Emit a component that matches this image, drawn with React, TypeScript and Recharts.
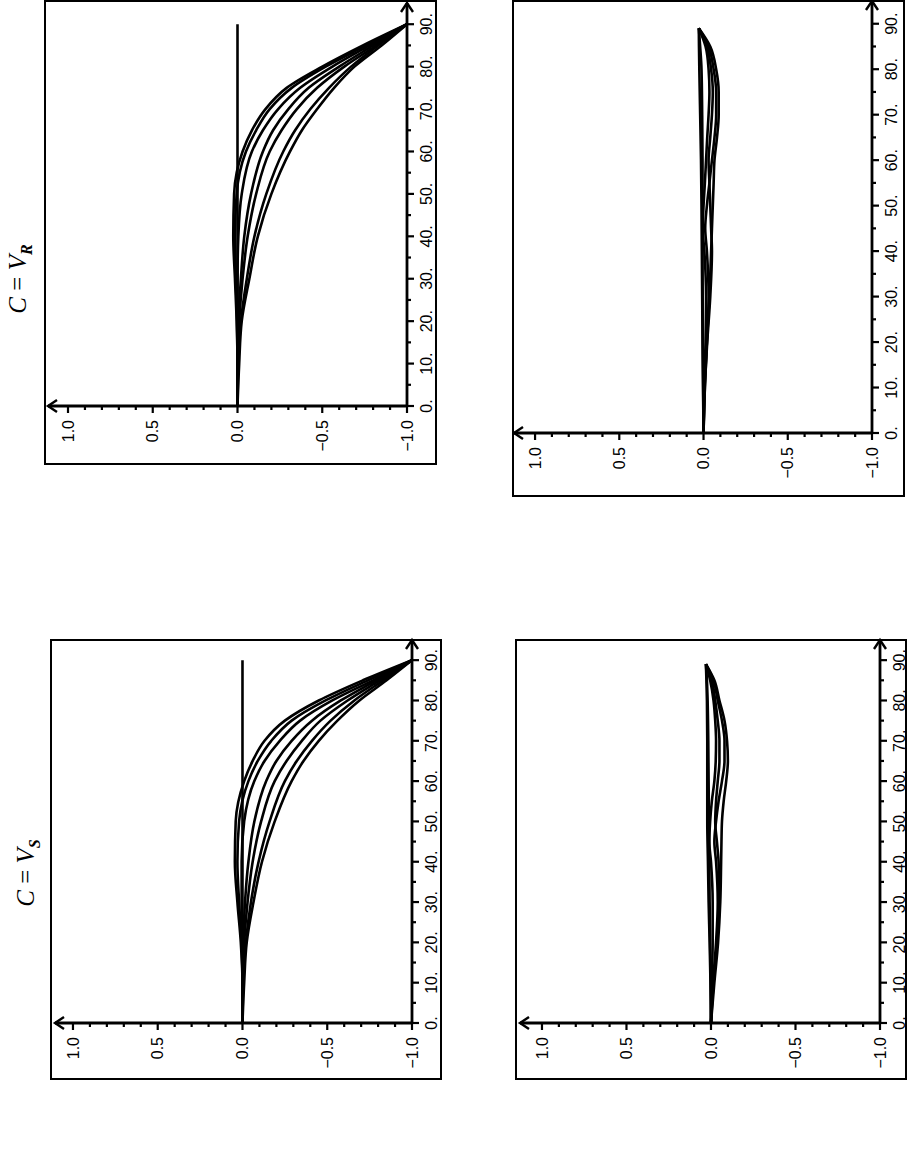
import { ScatterChart, Scatter, XAxis, YAxis } from "recharts";

// angle grid for the fan curves (left panels)
const fanAngles = [0, 10, 20, 30, 40, 50, 60, 65, 70, 75, 80, 85, 90];

// C = V_R, fan of trajectories
const vrFan1 = [0, 0, 0.005, 0.015, 0.025, 0.02, -0.03, -0.085, -0.165, -0.29, -0.5, -0.74, -1];
const vrFan2 = [0, 0, 0.003, 0.01, 0.015, 0.005, -0.05, -0.11, -0.19, -0.32, -0.52, -0.76, -1];
const vrFan3 = [0, 0, 0, 0, -0.005, -0.025, -0.085, -0.15, -0.24, -0.37, -0.56, -0.78, -1];
const vrFan4 = [0, 0, -0.005, -0.02, -0.04, -0.08, -0.15, -0.21, -0.3, -0.42, -0.6, -0.8, -1];
const vrFan5 = [0, 0, -0.01, -0.03, -0.06, -0.11, -0.19, -0.26, -0.35, -0.47, -0.63, -0.82, -1];
const vrFan6 = [0, -0.005, -0.02, -0.055, -0.1, -0.17, -0.27, -0.34, -0.43, -0.54, -0.67, -0.83, -1];
const vrFan7 = [0, -0.01, -0.025, -0.07, -0.12, -0.2, -0.31, -0.38, -0.47, -0.57, -0.69, -0.85, -1];

// C = V_S, fan of trajectories
const vsFan1 = [0, 0, 0.01, 0.03, 0.045, 0.04, -0.01, -0.06, -0.13, -0.25, -0.45, -0.71, -1];
const vsFan2 = [0, 0, 0.006, 0.02, 0.03, 0.02, -0.035, -0.09, -0.17, -0.29, -0.49, -0.74, -1];
const vsFan3 = [0, 0, 0.002, 0.005, 0.005, -0.01, -0.07, -0.13, -0.22, -0.34, -0.53, -0.77, -1];
const vsFan4 = [0, 0, -0.005, -0.015, -0.035, -0.07, -0.14, -0.2, -0.29, -0.41, -0.58, -0.79, -1];
const vsFan5 = [0, 0, -0.01, -0.03, -0.06, -0.11, -0.19, -0.26, -0.35, -0.46, -0.62, -0.81, -1];
const vsFan6 = [0, -0.005, -0.02, -0.05, -0.095, -0.16, -0.25, -0.32, -0.41, -0.52, -0.66, -0.83, -1];
const vsFan7 = [0, -0.01, -0.025, -0.065, -0.115, -0.19, -0.29, -0.36, -0.45, -0.56, -0.69, -0.85, -1];

// straight line at zero
const zeroAngles = [0, 90];
const zeroValues = [0, 0];

// loops (right panels): left edges and right edges, both by ascending angle
const loopUpAngles = [0, 10, 20, 30, 40, 50, 60, 70, 80, 85, 89];
const loopDownAngles = [0, 10, 20, 30, 40, 45, 50, 55, 60, 65, 70, 75, 80, 85, 89];

const vrLoopLeft = [0, 0.003, 0.006, 0.008, 0.01, 0.012, 0.015, 0.02, 0.025, 0.027, 0.028];
const vrLoopInner = [0, 0.002, 0.004, 0.005, 0.006, 0.006, 0.006, 0.008, 0.012, 0.02, 0.028];
const vrLoopRight1 = [0, -0.008, -0.02, -0.035, -0.045, -0.05, -0.055, -0.06, -0.065, -0.08, -0.09, -0.09, -0.075, -0.04, 0.028];
const vrLoopRight2 = [0, -0.006, -0.02, -0.03, -0.02, -0.01, -0.02, -0.035, -0.05, -0.065, -0.075, -0.075, -0.06, -0.03, 0.028];
const vrLoopRight3 = [0, -0.008, -0.022, -0.04, -0.05, -0.045, -0.04, -0.035, -0.03, -0.04, -0.05, -0.055, -0.045, -0.02, 0.028];
const vrLoopRight4 = [0, -0.004, -0.012, -0.015, -0.005, 0.005, 0, -0.008, -0.015, -0.022, -0.03, -0.035, -0.03, -0.012, 0.028];

const vsLoopLeft = [0, 0.003, 0.008, 0.014, 0.018, 0.022, 0.022, 0.022, 0.024, 0.027, 0.03];
const vsLoopInner = [0, 0.002, 0.005, 0.008, 0.01, 0.012, 0.014, 0.016, 0.02, 0.024, 0.03];
const vsLoopRight1 = [0, -0.02, -0.042, -0.055, -0.06, -0.062, -0.065, -0.075, -0.09, -0.1, -0.095, -0.08, -0.05, -0.02, 0.03];
const vsLoopRight2 = [0, -0.012, -0.03, -0.04, -0.03, -0.02, -0.03, -0.045, -0.065, -0.08, -0.08, -0.065, -0.04, -0.015, 0.03];
const vsLoopRight3 = [0, -0.015, -0.035, -0.05, -0.045, -0.035, -0.025, -0.03, -0.04, -0.05, -0.05, -0.04, -0.025, -0.005, 0.03];
const vsLoopRight4 = [0, -0.004, -0.01, -0.01, 0, 0.01, 0.005, -0.005, -0.02, -0.028, -0.03, -0.025, -0.015, 0.005, 0.03];

// axis ticks
const valueTicks = [-1, -0.9, -0.8, -0.7, -0.6, -0.5, -0.4, -0.3, -0.2, -0.1, 0, 0.1, 0.2, 0.3, 0.4, 0.5, 0.6, 0.7, 0.8, 0.9, 1];
const majorValueTicks = [1, 0.5, 0, -0.5, -1];
const valueTickLabels = ["1.0", "0.5", "0.0", "\u22120.5", "\u22121.0"];
const angleTicks = [0, 5, 10, 15, 20, 25, 30, 35, 40, 45, 50, 55, 60, 65, 70, 75, 80, 85, 90];
const majorAngleTicks = [0, 10, 20, 30, 40, 50, 60, 70, 80, 90];
const angleTickLabels = ["0.", "10.", "20.", "30.", "40.", "50.", "60.", "70.", "80.", "90."];

type Pt = { a: number; v: number };
const toPoints = (angles: number[], values: number[]): Pt[] =>
  angles.map((a, i) => ({ a, v: values[i] }));

const ANGLE_MAX = 95;
const LABEL_FONT = "'Liberation Sans', Arial, sans-serif";

function ValueTick(props: any) {
  const { x, y, payload } = props;
  const v = payload.value;
  if (v > 1.01) {
    return (
      <path
        d={`M${x + 9},${y - 6} L${x},${y} L${x + 9},${y + 6}`}
        stroke="#000"
        strokeWidth={2.4}
        fill="none"
      />
    );
  }
  const idx = majorValueTicks.findIndex((m) => Math.abs(m - v) < 1e-9);
  const major = idx >= 0;
  return (
    <g>
      <line x1={x} y1={y} x2={x} y2={y + (major ? 7 : 4)} stroke="#000" strokeWidth={2.2} />
      {major && (
        <text
          transform={`translate(${x},${y + 14}) rotate(-90)`}
          textAnchor="end"
          dy="0.35em"
          fontSize={16}
          fontFamily={LABEL_FONT}
          fill="#000"
        >
          {valueTickLabels[idx]}
        </text>
      )}
    </g>
  );
}

function AngleTick(props: any) {
  const { x, y, payload } = props;
  const a = payload.value;
  if (a > 90.5) {
    return (
      <path
        d={`M${x - 6},${y + 9} L${x},${y} L${x + 6},${y + 9}`}
        stroke="#000"
        strokeWidth={2.4}
        fill="none"
      />
    );
  }
  const idx = majorAngleTicks.indexOf(a);
  const major = idx >= 0;
  return (
    <g>
      <line x1={x} y1={y} x2={x + (major ? 7 : 4)} y2={y} stroke="#000" strokeWidth={2.2} />
      {major && (
        <text
          transform={`translate(${x + 19},${y}) rotate(-90)`}
          textAnchor="middle"
          dy="0.35em"
          fontSize={16}
          fontFamily={LABEL_FONT}
          fill="#000"
        >
          {angleTickLabels[idx]}
        </text>
      )}
    </g>
  );
}

const EmptyShape = () => <g />;

type PanelProps = {
  plotLeft: number;
  plotTop: number;
  plotW: number;
  plotH: number;
  vMax: number;
  series: Pt[][];
};

function Panel({ plotLeft, plotTop, plotW, plotH, vMax, series }: PanelProps) {
  const pad = 4;
  const axisW = 40;
  const axisH = 50;
  return (
    <div style={{ position: "absolute", left: plotLeft - pad, top: plotTop - pad }}>
      <ScatterChart
        width={plotW + pad + axisW}
        height={plotH + pad + axisH}
        margin={{ top: pad, left: pad, right: 0, bottom: 0 }}
      >
        <XAxis
          type="number"
          dataKey="v"
          domain={[-1, vMax]}
          reversed
          allowDataOverflow
          ticks={[...valueTicks, vMax]}
          interval={0}
          height={axisH}
          tickSize={0}
          tickMargin={0}
          tickLine={false}
          axisLine={{ stroke: "#000", strokeWidth: 2.8 }}
          tick={ValueTick}
        />
        <YAxis
          type="number"
          dataKey="a"
          orientation="right"
          domain={[0, ANGLE_MAX]}
          allowDataOverflow
          ticks={[...angleTicks, ANGLE_MAX]}
          interval={0}
          width={axisW}
          tickSize={0}
          tickMargin={0}
          tickLine={false}
          axisLine={{ stroke: "#000", strokeWidth: 2.8 }}
          tick={AngleTick}
        />
        {series.map((pts, i) => (
          <Scatter
            key={i}
            data={pts}
            line={{ stroke: "#000", strokeWidth: 2.6 }}
            lineJointType="monotoneY"
            shape={EmptyShape}
            isAnimationActive={false}
          />
        ))}
      </ScatterChart>
    </div>
  );
}

function Box({ left, top, width, height }: { left: number; top: number; width: number; height: number }) {
  return (
    <div
      style={{
        position: "absolute",
        left,
        top,
        width,
        height,
        boxSizing: "border-box",
        border: "2.5px solid #000",
      }}
    />
  );
}

function Title({ cx, cy, sub }: { cx: number; cy: number; sub: string }) {
  return (
    <div
      style={{
        position: "absolute",
        left: cx,
        top: cy,
        transform: "translate(-50%, -50%) rotate(-90deg)",
        fontFamily: "'Liberation Serif', 'Times New Roman', serif",
        fontSize: 25,
        whiteSpace: "nowrap",
        lineHeight: 1,
      }}
    >
      <i>C</i> = <i>V</i>
      <sub style={{ fontSize: 16, fontStyle: "italic", fontWeight: "bold" }}>{sub}</sub>
    </div>
  );
}

const vrFanSeries = [
  toPoints(zeroAngles, zeroValues),
  toPoints(fanAngles, vrFan1),
  toPoints(fanAngles, vrFan2),
  toPoints(fanAngles, vrFan3),
  toPoints(fanAngles, vrFan4),
  toPoints(fanAngles, vrFan5),
  toPoints(fanAngles, vrFan6),
  toPoints(fanAngles, vrFan7),
];

const vsFanSeries = [
  toPoints(zeroAngles, zeroValues),
  toPoints(fanAngles, vsFan1),
  toPoints(fanAngles, vsFan2),
  toPoints(fanAngles, vsFan3),
  toPoints(fanAngles, vsFan4),
  toPoints(fanAngles, vsFan5),
  toPoints(fanAngles, vsFan6),
  toPoints(fanAngles, vsFan7),
];

const vrLoopSeries = [
  toPoints(loopUpAngles, vrLoopLeft),
  toPoints(loopUpAngles, vrLoopInner),
  toPoints(loopDownAngles, vrLoopRight1),
  toPoints(loopDownAngles, vrLoopRight2),
  toPoints(loopDownAngles, vrLoopRight3),
  toPoints(loopDownAngles, vrLoopRight4),
];

const vsLoopSeries = [
  toPoints(loopUpAngles, vsLoopLeft),
  toPoints(loopUpAngles, vsLoopInner),
  toPoints(loopDownAngles, vsLoopRight1),
  toPoints(loopDownAngles, vsLoopRight2),
  toPoints(loopDownAngles, vsLoopRight3),
  toPoints(loopDownAngles, vsLoopRight4),
];

export default function App() {
  return (
    <div style={{ position: "absolute", left: 0, top: 0, width: 908, height: 1151, background: "#fff", overflow: "hidden" }}>
      <Box left={44} top={0} width={393} height={465} />
      <Box left={50} top={639} width={392} height={441} />
      <Box left={512} top={0} width={393} height={497} />
      <Box left={515} top={639} width={392} height={441} />

      <Title cx={20} cy={279} sub="R" />
      <Title cx={28} cy={873} sub="S" />

      <Panel plotLeft={48} plotTop={3} plotW={359} plotH={403} vMax={1.118} series={vrFanSeries} />
      <Panel plotLeft={55} plotTop={640} plotW={357} plotH={383} vMax={1.106} series={vsFanSeries} />
      <Panel plotLeft={514} plotTop={1} plotW={358} plotH={432} vMax={1.125} series={vrLoopSeries} />
      <Panel plotLeft={520} plotTop={640} plotW={360} plotH={383} vMax={1.13} series={vsLoopSeries} />
    </div>
  );
}
